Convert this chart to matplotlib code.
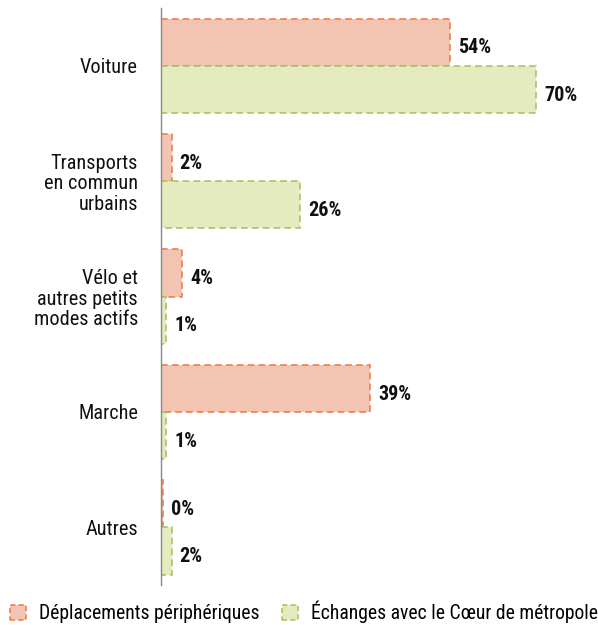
import matplotlib
matplotlib.use("Agg")
import matplotlib.pyplot as plt
from matplotlib.patches import Patch
import numpy as np

categories = ["Voiture", "Transports\nen commun\nurbains", "Vélo et\nautres petits\nmodes actifs", "Marche", "Autres"]
peripheriques = [54, 2, 4, 39, 0.4]
echanges = [70, 26, 1, 1, 2]
series_names = ["Déplacements périphériques", "Échanges avec le Cœur de métropole"]

fam = ["Roboto Condensed", "Liberation Sans Narrow", "Liberation Sans", "DejaVu Sans"]
plt.rcParams["font.family"] = fam

orange_fill = "#F4C4B2"
orange_edge = "#F07E4E"
green_fill = "#E4EBBE"
green_edge = "#A9C46A"

fig = plt.figure(figsize=(5.98, 6.25), dpi=100)
ax = fig.add_axes([0.269, 0.064, 0.717, 0.923])

y = np.arange(len(categories))
h = 0.41
b1 = ax.barh(y - h / 2, peripheriques, height=h, color=orange_fill, edgecolor=orange_edge,
             linestyle=(0, (4, 2.5)), linewidth=1.2)
b2 = ax.barh(y + h / 2, echanges, height=h, color=green_fill, edgecolor=green_edge,
             linestyle=(0, (4, 2.5)), linewidth=1.2)

for bars, vals in ((b1, peripheriques), (b2, echanges)):
    for rect, v in zip(bars, vals):
        ax.text(rect.get_width() + 1.5, rect.get_y() + rect.get_height() / 2 + 0.05,
                f"{round(v):d}%", va="center", ha="left", fontsize=14.5,
                fontweight="bold", color="#111111")

ax.set_xlim(0, 80)
ax.set_ylim(len(categories) - 0.5, -0.5)
ax.set_yticks(y)
ax.set_yticklabels(categories, fontsize=14.6, ha="right", multialignment="right",
                   color="#111111", linespacing=1.1)
ax.tick_params(axis="y", length=0, pad=16.5)
ax.set_xticks([])
for s in ("top", "right", "bottom"):
    ax.spines[s].set_visible(False)
ax.spines["left"].set_color("#888888")
ax.spines["left"].set_linewidth(1)

handles = [Patch(facecolor=orange_fill, edgecolor=orange_edge, linestyle=(0, (3, 2)), linewidth=1.2),
           Patch(facecolor=green_fill, edgecolor=green_edge, linestyle=(0, (3, 2)), linewidth=1.2)]
fig.legend(handles, series_names, loc="center", bbox_to_anchor=(0.508, 0.021), ncol=2, frameon=False,
           fontsize=14.1, handlelength=0.82, handleheight=0.82, handletextpad=0.66, columnspacing=1.17,
           borderpad=0.0, borderaxespad=0.0)

fig.savefig("out.png", dpi=100)
